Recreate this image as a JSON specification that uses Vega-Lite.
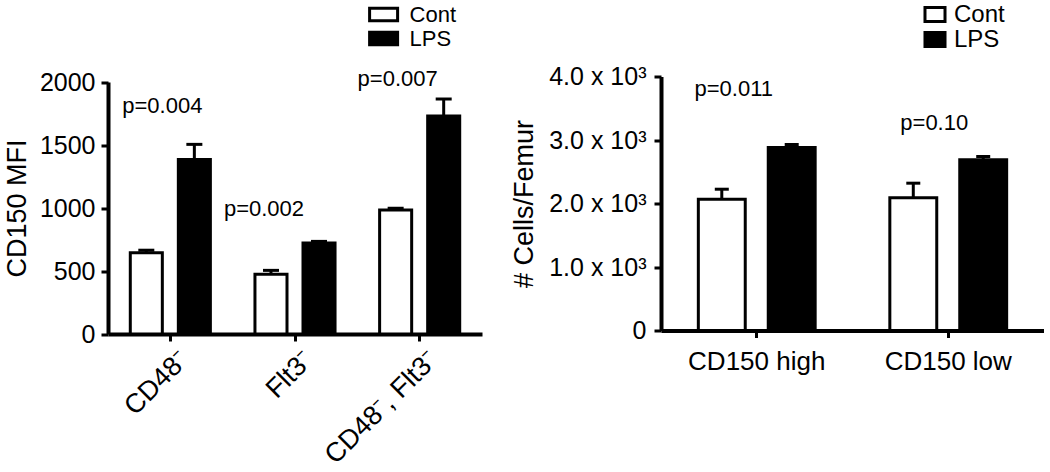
{
  "$schema": "https://vega.github.io/schema/vega-lite/v6.json",
  "padding": {"left": 3, "top": 2.5, "right": 0, "bottom": 0},
  "background": "white",
  "config": {
    "font": "Liberation Sans",
    "view": {"stroke": null},
    "axis": {"domainColor": "black", "domainWidth": 4, "tickColor": "black", "tickWidth": 3, "tickSize": 7, "labelColor": "black", "labelFont": "Liberation Sans", "titleFont": "Liberation Sans", "titleFontWeight": "normal", "titleColor": "black", "grid": false},
    "text": {"font": "Liberation Sans", "fontSize": 22, "color": "black", "baseline": "middle"}
  },
  "spacing": 28,
  "resolve": {"scale": {"fill": "independent", "x": "independent", "y": "independent", "xOffset": "independent"}, "legend": {"fill": "independent"}},
  "hconcat": [
    {
      "width": 374,
      "height": 257.5,
      "data": {"values": [
        {"cell": "CD48⁻", "grp": "Cont", "mean": 645, "upper": 665},
        {"cell": "CD48⁻", "grp": "LPS", "mean": 1385, "upper": 1505},
        {"cell": "Flt3⁻", "grp": "Cont", "mean": 475, "upper": 505},
        {"cell": "Flt3⁻", "grp": "LPS", "mean": 722, "upper": 735},
        {"cell": "CD48⁻, Flt3⁻", "grp": "Cont", "mean": 985, "upper": 998},
        {"cell": "CD48⁻, Flt3⁻", "grp": "LPS", "mean": 1730, "upper": 1865}
      ]},
      "layer": [
        {
          "mark": {"type": "bar", "stroke": "black", "strokeWidth": 3},
          "encoding": {
            "x": {"field": "cell", "type": "nominal", "scale": {"domain": ["CD48⁻", "Flt3⁻", "CD48⁻, Flt3⁻"], "paddingInner": 0, "paddingOuter": 0}, "axis": {"title": null, "labelAngle": -45, "labelAlign": "right", "labelBaseline": "top", "labelFontSize": 27, "labelPadding": 5, "labelOffset": 5}},
            "xOffset": {"field": "grp", "type": "nominal", "scale": {"domain": ["Cont", "LPS"], "paddingInner": 0.333, "paddingOuter": 0.464}},
            "y": {"field": "mean", "type": "quantitative", "scale": {"domain": [0, 2000], "range": [257.5, 5.5]}, "axis": {"title": "CD150 MFI", "values": [0, 500, 1000, 1500, 2000], "format": "d", "labelFontSize": 25, "titleFontSize": 27, "titlePadding": 7.5, "labelPadding": 6}},
            "fill": {"field": "grp", "type": "nominal", "scale": {"domain": ["Cont", "LPS"], "range": ["white", "black"]},
              "legend": {"title": null, "orient": "none", "legendX": 264.6, "legendY": -73, "symbolType": "M-2,-0.9H2V0.9H-2Z", "symbolSize": 196, "symbolStrokeColor": "black", "symbolStrokeWidth": 3, "labelFontSize": 22, "labelOffset": 15, "rowPadding": -4.5, "padding": 0, "labelColor": "black", "labelFont": "Liberation Sans"}}
          }
        },
        {
          "mark": {"type": "rule", "strokeWidth": 3, "color": "black"},
          "encoding": {
            "x": {"field": "cell", "type": "nominal"},
            "xOffset": {"field": "grp", "type": "nominal"},
            "y": {"field": "mean", "type": "quantitative"},
            "y2": {"field": "upper"}
          }
        },
        {
          "mark": {"type": "tick", "orient": "horizontal", "size": 16, "thickness": 3, "color": "black", "opacity": 1},
          "encoding": {
            "x": {"field": "cell", "type": "nominal"},
            "xOffset": {"field": "grp", "type": "nominal"},
            "y": {"field": "upper", "type": "quantitative"}
          }
        },
        {
          "data": {"values": [{"cell": "CD48⁻", "pos": 1810, "label": "p=0.004"}]},
          "mark": {"type": "text", "dx": -8},
          "encoding": {"x": {"field": "cell", "type": "nominal"}, "y": {"field": "pos", "type": "quantitative"}, "text": {"field": "label"}}
        },
        {
          "data": {"values": [{"cell": "Flt3⁻", "pos": 992, "label": "p=0.002"}]},
          "mark": {"type": "text", "dx": -31},
          "encoding": {"x": {"field": "cell", "type": "nominal"}, "y": {"field": "pos", "type": "quantitative"}, "text": {"field": "label"}}
        },
        {
          "data": {"values": [{"cell": "CD48⁻, Flt3⁻", "pos": 2024, "label": "p=0.007"}]},
          "mark": {"type": "text", "dx": -22},
          "encoding": {"x": {"field": "cell", "type": "nominal"}, "y": {"field": "pos", "type": "quantitative"}, "text": {"field": "label"}}
        }
      ]
    },
    {
      "width": 383,
      "height": 254,
      "data": {"values": [
        {"cell": "CD150 high", "grp": "Cont", "mean": 2065, "upper": 2225},
        {"cell": "CD150 high", "grp": "LPS", "mean": 2880, "upper": 2930},
        {"cell": "CD150 low", "grp": "Cont", "mean": 2090, "upper": 2320},
        {"cell": "CD150 low", "grp": "LPS", "mean": 2690, "upper": 2740}
      ]},
      "layer": [
        {
          "mark": {"type": "bar", "stroke": "black", "strokeWidth": 3},
          "encoding": {
            "x": {"field": "cell", "type": "nominal", "scale": {"domain": ["CD150 high", "CD150 low"], "paddingInner": 0, "paddingOuter": 0}, "axis": {"title": null, "labelAngle": 0, "labelFontSize": 26, "labelPadding": 11}},
            "xOffset": {"field": "grp", "type": "nominal", "scale": {"domain": ["Cont", "LPS"], "paddingInner": 0.329, "paddingOuter": 0.534}},
            "y": {"field": "mean", "type": "quantitative", "scale": {"domain": [0, 4000]}, "axis": {"title": "# Cells/Femur", "values": [0, 1000, 2000, 3000, 4000], "labelExpr": "datum.value == 0 ? '0' : format(datum.value/1000, '.1f') + ' x 10³'", "labelFontSize": 25, "titleFontSize": 27, "titlePadding": 10, "labelPadding": 8}},
            "fill": {"field": "grp", "type": "nominal", "scale": {"domain": ["Cont", "LPS"], "range": ["white", "black"]},
              "legend": {"title": null, "orient": "none", "legendX": 262, "legendY": -74, "symbolType": "M-1.43,-1H1.43V1H-1.43Z", "symbolSize": 196, "symbolStrokeColor": "black", "symbolStrokeWidth": 3, "labelFontSize": 24, "labelOffset": 7, "rowPadding": -6.7, "padding": 0, "labelColor": "black", "labelFont": "Liberation Sans"}}
          }
        },
        {
          "mark": {"type": "rule", "strokeWidth": 3, "color": "black"},
          "encoding": {
            "x": {"field": "cell", "type": "nominal"},
            "xOffset": {"field": "grp", "type": "nominal"},
            "y": {"field": "mean", "type": "quantitative"},
            "y2": {"field": "upper"}
          }
        },
        {
          "mark": {"type": "tick", "orient": "horizontal", "size": 14, "thickness": 3, "color": "black", "opacity": 1},
          "encoding": {
            "x": {"field": "cell", "type": "nominal"},
            "xOffset": {"field": "grp", "type": "nominal"},
            "y": {"field": "upper", "type": "quantitative"}
          }
        },
        {
          "data": {"values": [{"cell": "CD150 high", "pos": 3806, "label": "p=0.011"}]},
          "mark": {"type": "text", "dx": -23},
          "encoding": {"x": {"field": "cell", "type": "nominal"}, "y": {"field": "pos", "type": "quantitative"}, "text": {"field": "label"}}
        },
        {
          "data": {"values": [{"cell": "CD150 low", "pos": 3271, "label": "p=0.10"}]},
          "mark": {"type": "text", "dx": -14},
          "encoding": {"x": {"field": "cell", "type": "nominal"}, "y": {"field": "pos", "type": "quantitative"}, "text": {"field": "label"}}
        }
      ]
    }
  ]
}
